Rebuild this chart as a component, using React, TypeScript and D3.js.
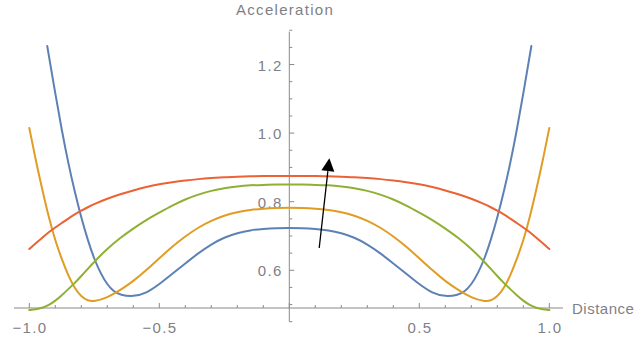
import * as d3 from "d3";

const width = 639;
const height = 338;

// shared distance grid for the orange, green and red curves (left half, then right half)
const distance = [
  -1, -0.975, -0.95, -0.925, -0.9, -0.875, -0.85, -0.825, -0.8, -0.775, -0.75, -0.7, -0.65, -0.6, -0.55, -0.5,
  -0.45, -0.4, -0.35, -0.3, -0.25, -0.2, -0.15, -0.1, -0.05, 0,
  0.05, 0.1, 0.15, 0.2, 0.25, 0.3, 0.35, 0.4, 0.45, 0.5, 0.55, 0.6, 0.65, 0.7, 0.75, 0.775, 0.8, 0.825, 0.85,
  0.875, 0.9, 0.925, 0.95, 0.975, 1,
];
const orangeAccel = [
  1.015, 0.92, 0.835, 0.754, 0.686, 0.632, 0.584, 0.547, 0.523, 0.511, 0.509, 0.52, 0.542, 0.568, 0.6, 0.635,
  0.669, 0.699, 0.725, 0.745, 0.76, 0.77, 0.776, 0.78, 0.782, 0.782,
  0.782, 0.78, 0.776, 0.77, 0.76, 0.745, 0.725, 0.699, 0.669, 0.635, 0.6, 0.568, 0.542, 0.52, 0.509, 0.511, 0.523,
  0.547, 0.584, 0.632, 0.686, 0.754, 0.835, 0.92, 1.015,
];
const greenAccel = [
  0.484, 0.486, 0.49, 0.498, 0.511, 0.527, 0.545, 0.563, 0.583, 0.604, 0.625, 0.663, 0.695, 0.722, 0.747, 0.768,
  0.789, 0.807, 0.821, 0.832, 0.84, 0.845, 0.848, 0.849, 0.85, 0.85,
  0.85, 0.849, 0.848, 0.845, 0.84, 0.832, 0.821, 0.807, 0.789, 0.768, 0.747, 0.722, 0.695, 0.663, 0.625, 0.604,
  0.583, 0.563, 0.545, 0.527, 0.511, 0.498, 0.49, 0.486, 0.484,
];
const redAccel = [
  0.662, 0.679, 0.695, 0.711, 0.725, 0.738, 0.751, 0.763, 0.774, 0.784, 0.793, 0.809, 0.822, 0.833, 0.843, 0.851,
  0.857, 0.862, 0.866, 0.869, 0.871, 0.873, 0.874, 0.875, 0.875, 0.875,
  0.875, 0.875, 0.874, 0.873, 0.871, 0.869, 0.866, 0.862, 0.857, 0.851, 0.843, 0.833, 0.822, 0.809, 0.793, 0.784,
  0.774, 0.763, 0.751, 0.738, 0.725, 0.711, 0.695, 0.679, 0.662,
];

// the blue curve leaves the plot range earlier
const blueDistance = [
  -0.931, -0.9, -0.875, -0.85, -0.825, -0.8, -0.775, -0.75, -0.725, -0.7, -0.675, -0.65, -0.6, -0.55, -0.5,
  -0.45, -0.4, -0.35, -0.3, -0.25, -0.2, -0.15, -0.1, -0.05, 0,
  0.05, 0.1, 0.15, 0.2, 0.25, 0.3, 0.35, 0.4, 0.45, 0.5, 0.55, 0.6, 0.65, 0.675, 0.7, 0.725, 0.75, 0.775, 0.8,
  0.825, 0.85, 0.875, 0.9, 0.931,
];
const blueAccel = [
  1.254, 1.115, 1.008, 0.912, 0.828, 0.753, 0.688, 0.632, 0.59, 0.558, 0.538, 0.528, 0.523, 0.533, 0.559,
  0.59, 0.62, 0.65, 0.676, 0.696, 0.709, 0.717, 0.721, 0.723, 0.723,
  0.723, 0.721, 0.717, 0.709, 0.696, 0.676, 0.65, 0.62, 0.59, 0.559, 0.533, 0.523, 0.528, 0.538, 0.558, 0.59,
  0.632, 0.688, 0.753, 0.828, 0.912, 1.008, 1.115, 1.254,
];

const xTickLabels = [-1, -0.5, 0.5, 1];
const yTickLabels = [0.6, 0.8, 1.0, 1.2];

// arrow annotation (tail, head) in data units
const arrowFrom = [0.115, 0.665];
const arrowTo = [0.154, 0.927];

const series = [
  { name: "blue", xs: blueDistance, ys: blueAccel, color: "#5E81B5" },
  { name: "orange", xs: distance, ys: orangeAccel, color: "#E19C24" },
  { name: "green", xs: distance, ys: greenAccel, color: "#8FB032" },
  { name: "red", xs: distance, ys: redAccel, color: "#EB6235" },
];

const x = d3.scaleLinear().domain([-1, 1]).range([29.3, 549.3]);
const y = d3.scaleLinear().domain([0.49, 1.3]).range([308, 30.25]);

const axisColor = "#8a8a8a";
const labelColor = "#7f7f86";
const font = "'Liberation Sans', Arial, sans-serif";
const fontSize = 15;
const spacing = 1.3;

export default function App() {
  // basis spline smooths small reading errors in the sampled values
  const line = d3
    .line<[number, number]>()
    .x((d) => x(d[0]))
    .y((d) => y(d[1]))
    .curve(d3.curveBasis);

  const fmt = d3.format(".1f");
  const xMinor = d3.range(-10, 11).map((i) => i / 10);
  const yMinor = d3.range(9, 27).map((i) => i / 20);

  const x0 = x(0);
  const yBase = y(0.49);

  // arrow geometry
  const ax1 = x(arrowFrom[0]);
  const ay1 = y(arrowFrom[1]);
  const ax2 = x(arrowTo[0]);
  const ay2 = y(arrowTo[1]);
  const ang = Math.atan2(ay2 - ay1, ax2 - ax1);
  const headLen = 13;
  const headHalf = 6.5;
  const bx = ax2 - headLen * Math.cos(ang);
  const by = ay2 - headLen * Math.sin(ang);
  const px = -Math.sin(ang) * headHalf;
  const py = Math.cos(ang) * headHalf;

  return (
    <svg
      width={width}
      height={height}
      viewBox={`0 0 ${width} ${height}`}
      style={{ position: "absolute", left: 0, top: 0, background: "#fff" }}
    >
      {/* x axis */}
      <g>
        <line x1={14} x2={563} y1={yBase} y2={yBase} stroke={axisColor} strokeWidth={1} />
        {xMinor.map((v) => {
          const major = Math.abs(Math.round(v * 10)) % 5 === 0;
          return (
            <line
              key={v}
              x1={x(v)}
              x2={x(v)}
              y1={yBase}
              y2={yBase - (major ? 5 : 3)}
              stroke={axisColor}
              strokeWidth={1}
            />
          );
        })}
        {xTickLabels.map((v) => (
          <text
            key={v}
            x={x(v) + spacing / 2}
            y={333}
            textAnchor="middle"
            fontFamily={font}
            fontSize={fontSize}
            letterSpacing={spacing}
            fill={labelColor}
          >
            {fmt(v)}
          </text>
        ))}
        <text x={572} y={314} fontFamily={font} fontSize={fontSize} letterSpacing={0.5} fill={labelColor}>
          Distance
        </text>
      </g>

      {/* y axis */}
      <g>
        <line x1={x0} x2={x0} y1={y(1.296)} y2={y(0.45)} stroke={axisColor} strokeWidth={1} />
        {yMinor.map((v) => {
          const major = Math.round(v * 20) % 4 === 0;
          return (
            <line
              key={v}
              x1={x0}
              x2={x0 + (major ? 5 : 3)}
              y1={y(v)}
              y2={y(v)}
              stroke={axisColor}
              strokeWidth={1}
            />
          );
        })}
        {yTickLabels.map((v) => (
          <text
            key={v}
            x={x0 - 8 + spacing}
            y={y(v)}
            dy="0.4em"
            textAnchor="end"
            fontFamily={font}
            fontSize={fontSize}
            letterSpacing={spacing}
            fill={labelColor}
          >
            {fmt(v)}
          </text>
        ))}
        <text x={236} y={15} fontFamily={font} fontSize={fontSize} letterSpacing={spacing} fill={labelColor}>
          Acceleration
        </text>
      </g>

      {/* curves */}
      <g fill="none" strokeWidth={2} strokeLinejoin="round" strokeLinecap="round">
        {series.map((s) => (
          <path
            key={s.name}
            d={line(s.xs.map((d, i) => [d, s.ys[i]] as [number, number])) || ""}
            stroke={s.color}
          />
        ))}
      </g>

      {/* arrow */}
      <g>
        <line x1={ax1} y1={ay1} x2={bx} y2={by} stroke="#000" strokeWidth={1.3} />
        <polygon
          points={`${ax2},${ay2} ${bx + px},${by + py} ${bx - px},${by - py}`}
          fill="#000"
        />
      </g>
    </svg>
  );
}
